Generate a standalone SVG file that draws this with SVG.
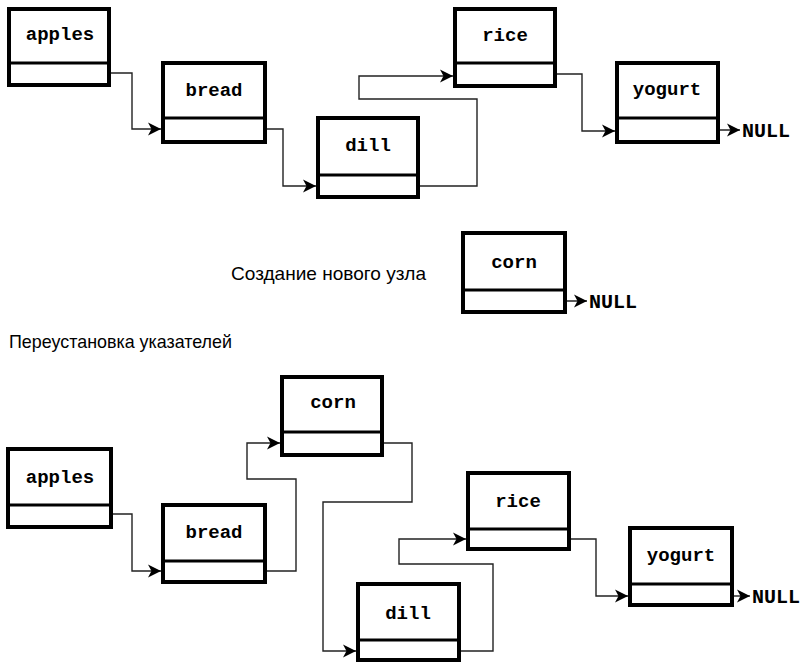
<svg xmlns="http://www.w3.org/2000/svg" width="808" height="662" viewBox="0 0 808 662">
<style>
.box{fill:#fff;stroke:#000;stroke-width:4}
.div{stroke:#000;stroke-width:3}
.lbl{font-family:"Liberation Mono","Courier New",monospace;font-weight:bold;font-size:19px;text-anchor:middle;fill:#000}
.null{font-family:"Liberation Mono","Courier New",monospace;font-weight:bold;font-size:20px;fill:#000}
.cap{font-family:"Liberation Sans",Arial,sans-serif;font-size:19px;fill:#000}
.con{fill:none;stroke:#222;stroke-width:1.4;marker-end:url(#ah)}
</style>
<defs>
<marker id="ah" markerUnits="userSpaceOnUse" markerWidth="14" markerHeight="14" refX="13" refY="7" orient="auto">
<path d="M0,0.5 L13,7 L0,13.5 L3.5,7 z" fill="#000"/>
</marker>
</defs>
<rect width="808" height="662" fill="#fff"/>

<g id="connectors">
<path class="con" d="M77,73 H132 V129 H161"/>
<path class="con" d="M240,129 H283 V186 H316"/>
<path class="con" d="M382,186 H477 V99 H359 V76 H453"/>
<path class="con" d="M538,74 H582 V131 H615"/>
<path class="con" d="M703,130 H740"/>
<path class="con" d="M552,301 H587"/>
<path class="con" d="M77,514 H132 V571 H161"/>
<path class="con" d="M239,571 H296 V479 H247 V443 H280"/>
<path class="con" d="M333,443 H412 V502 H323 V651 H356"/>
<path class="con" d="M422,651 H493 V564 H399 V539 H466"/>
<path class="con" d="M553,539 H596 V596 H628"/>
<path class="con" d="M718,596 H750"/>
</g>

<g id="t-apples"><rect class="box" x="9" y="9" width="100" height="76"/><line class="div" x1="9" y1="63" x2="109" y2="63"/><text class="lbl" x="60" y="40">apples</text></g>
<g id="t-bread"><rect class="box" x="163" y="63" width="102" height="79"/><line class="div" x1="163" y1="118" x2="265" y2="118"/><text class="lbl" x="214" y="96">bread</text></g>
<g id="t-dill"><rect class="box" x="318" y="118" width="100" height="79"/><line class="div" x1="318" y1="175" x2="418" y2="175"/><text class="lbl" x="368" y="151">dill</text></g>
<g id="t-rice"><rect class="box" x="455" y="9" width="100" height="77"/><line class="div" x1="455" y1="63" x2="555" y2="63"/><text class="lbl" x="505" y="41">rice</text></g>
<g id="t-yogurt"><rect class="box" x="617" y="63" width="101" height="79"/><line class="div" x1="617" y1="118" x2="718" y2="118"/><text class="lbl" x="667" y="95">yogurt</text></g>
<text class="null" x="742" y="137" textLength="48" lengthAdjust="spacingAndGlyphs">NULL</text>

<text class="cap" x="231" y="280" textLength="195" lengthAdjust="spacingAndGlyphs">Создание нового узла</text>
<g id="m-corn"><rect class="box" x="463" y="233" width="102" height="79"/><line class="div" x1="463" y1="290" x2="565" y2="290"/><text class="lbl" x="514" y="268">corn</text></g>
<text class="null" x="589" y="308" textLength="48" lengthAdjust="spacingAndGlyphs">NULL</text>

<text class="cap" x="9" y="348" textLength="223" lengthAdjust="spacingAndGlyphs">Переустановка указателей</text>

<g id="b-apples"><rect class="box" x="8" y="449" width="103" height="78"/><line class="div" x1="8" y1="505" x2="111" y2="505"/><text class="lbl" x="60" y="483">apples</text></g>
<g id="b-bread"><rect class="box" x="163" y="505" width="102" height="77"/><line class="div" x1="163" y1="561" x2="265" y2="561"/><text class="lbl" x="214" y="538">bread</text></g>
<g id="b-corn"><rect class="box" x="282" y="377" width="100" height="78"/><line class="div" x1="282" y1="432" x2="382" y2="432"/><text class="lbl" x="333" y="408">corn</text></g>
<g id="b-dill"><rect class="box" x="358" y="584" width="101" height="76"/><line class="div" x1="358" y1="640" x2="459" y2="640"/><text class="lbl" x="408" y="619">dill</text></g>
<g id="b-rice"><rect class="box" x="468" y="473" width="101" height="76"/><line class="div" x1="468" y1="529" x2="569" y2="529"/><text class="lbl" x="518" y="507">rice</text></g>
<g id="b-yogurt"><rect class="box" x="630" y="528" width="102" height="77"/><line class="div" x1="630" y1="584" x2="732" y2="584"/><text class="lbl" x="681" y="561">yogurt</text></g>
<text class="null" x="752" y="603" textLength="48" lengthAdjust="spacingAndGlyphs">NULL</text>
</svg>
